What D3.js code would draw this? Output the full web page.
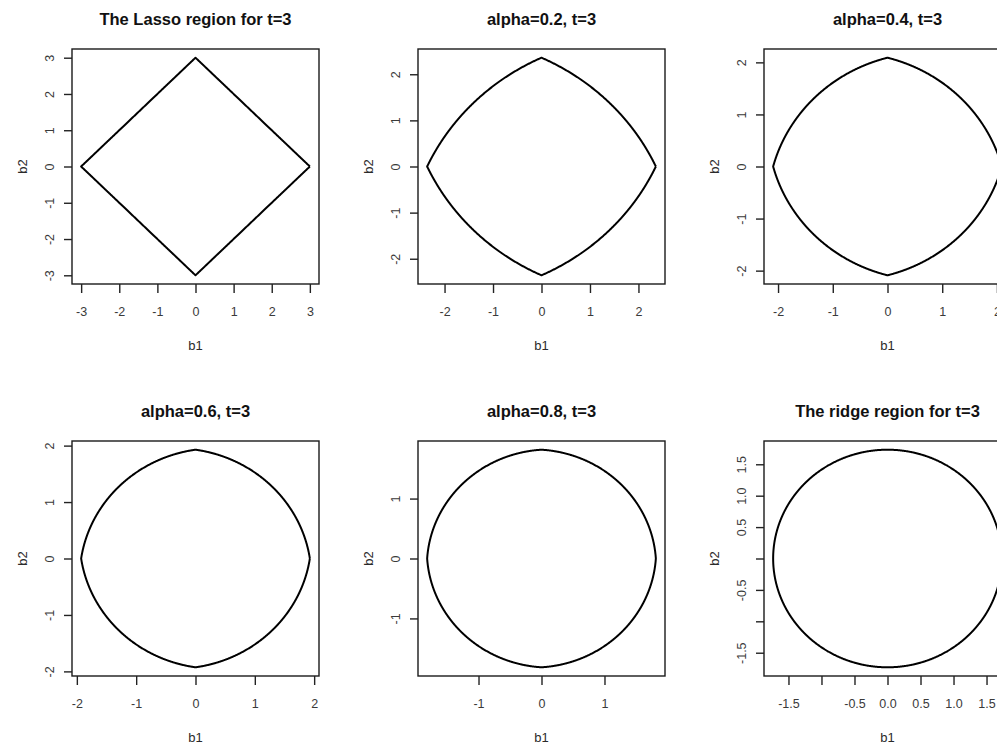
<!DOCTYPE html>
<html>
<head>
<meta charset="utf-8">
<script src="https://cdn.jsdelivr.net/npm/d3@7"></script>
<style>
  body { margin: 0; background: #fff; }
  svg { display: block; }
  text { font-family: "Liberation Sans", Arial, sans-serif; }
</style>
</head>
<body>
<svg id="chart" width="997" height="745"></svg>
<script>
// Elastic-net constraint regions: (1 - alpha)(|b1| + |b2|) + alpha (b1^2 + b2^2) <= t
const panelTitles = [
  "The Lasso region for t=3",
  "alpha=0.2, t=3",
  "alpha=0.4, t=3",
  "alpha=0.6, t=3",
  "alpha=0.8, t=3",
  "The ridge region for t=3"
];
const alphas = [0, 0.2, 0.4, 0.6, 0.8, 1];
const tBound = 3;

const xTickValues = [
  [-3, -2, -1, 0, 1, 2, 3],
  [-2, -1, 0, 1, 2],
  [-2, -1, 0, 1, 2],
  [-2, -1, 0, 1, 2],
  [-1, 0, 1],
  [-1.5, -1, -0.5, 0, 0.5, 1, 1.5]
];
const xTickLabels = [
  ["-3", "-2", "-1", "0", "1", "2", "3"],
  ["-2", "-1", "0", "1", "2"],
  ["-2", "-1", "0", "1", "2"],
  ["-2", "-1", "0", "1", "2"],
  ["-1", "0", "1"],
  ["-1.5", "", "-0.5", "0.0", "0.5", "1.0", "1.5"]
];
const yTickValues = xTickValues;
const yTickLabels = [
  ["-3", "-2", "-1", "0", "1", "2", "3"],
  ["-2", "-1", "0", "1", "2"],
  ["-2", "-1", "0", "1", "2"],
  ["-2", "-1", "0", "1", "2"],
  ["-1", "0", "1"],
  ["-1.5", "", "-0.5", "", "0.5", "1.0", "1.5"]
];
const axisTitleX = "b1";
const axisTitleY = "b2";

// grid layout: 3 columns x 2 rows
const cellW = 346, cellH = 392;
const margin = { left: 72, top: 49, right: 27, bottom: 108 };
const plotW = cellW - margin.left - margin.right;
const plotH = cellH - margin.top - margin.bottom;

const svg = d3.select("#chart");

// boundary of the region, traced by direction angle
function boundary(alpha, t) {
  const n = 1440;
  const pts = [];
  for (let i = 0; i <= n; i++) {
    const th = (i / n) * 2 * Math.PI;
    const c = Math.cos(th), s = Math.sin(th);
    const l1 = Math.abs(c) + Math.abs(s);
    let r;
    if (alpha === 0) r = t / l1;
    else {
      const b = (1 - alpha) * l1;
      r = (-b + Math.sqrt(b * b + 4 * alpha * t)) / (2 * alpha);
    }
    pts.push([r * c, r * s]);
  }
  return pts;
}

alphas.forEach((alpha, k) => {
  const col = k % 3, row = Math.floor(k / 3);
  const g = svg.append("g")
    .attr("transform", `translate(${col * cellW + margin.left},${row * cellH + margin.top})`);

  const pts = boundary(alpha, tBound);
  const ex = d3.extent(pts, d => d[0]);
  const ey = d3.extent(pts, d => d[1]);
  const px = (ex[1] - ex[0]) * 0.04, py = (ey[1] - ey[0]) * 0.04;

  const x = d3.scaleLinear().domain([ex[0] - px, ex[1] + px]).range([0, plotW]);
  const y = d3.scaleLinear().domain([ey[0] - py, ey[1] + py]).range([plotH, 0]);

  // region outline
  g.append("path")
    .datum(pts)
    .attr("d", d3.line().x(d => x(d[0])).y(d => y(d[1])))
    .attr("fill", "none")
    .attr("stroke", "#000")
    .attr("stroke-width", 2)
    .attr("stroke-linejoin", "round");

  // frame
  g.append("rect")
    .attr("x", 0).attr("y", 0)
    .attr("width", plotW).attr("height", plotH)
    .attr("fill", "none")
    .attr("stroke", "#1a1a1a")
    .attr("stroke-width", 1.4);

  // x axis
  const xa = g.append("g")
    .attr("transform", `translate(0,${plotH})`)
    .call(d3.axisBottom(x)
      .tickValues(xTickValues[k])
      .tickFormat((d, i) => xTickLabels[k][i])
      .tickSizeOuter(0)
      .tickSize(9));
  xa.select(".domain").remove();
  xa.selectAll(".tick line").attr("stroke", "#222").attr("stroke-width", 1.4);
  xa.selectAll(".tick text")
    .attr("y", 28).attr("dy", "0.35em")
    .attr("fill", "#3a3a3a")
    .style("font-size", "12.5px");

  // y axis with labels parallel to the axis
  const ya = g.append("g")
    .call(d3.axisLeft(y)
      .tickValues(yTickValues[k])
      .tickFormat((d, i) => yTickLabels[k][i])
      .tickSizeOuter(0)
      .tickSize(8));
  ya.select(".domain").remove();
  ya.selectAll(".tick line").attr("stroke", "#222").attr("stroke-width", 1.4);
  ya.selectAll(".tick text")
    .attr("x", 0).attr("y", 0).attr("dy", "0.35em")
    .attr("text-anchor", "middle")
    .attr("transform", "translate(-22,0) rotate(-90)")
    .attr("fill", "#3a3a3a")
    .style("font-size", "12.5px");

  // titles
  g.append("text")
    .attr("x", plotW / 2).attr("y", -30).attr("dy", "0.35em")
    .attr("text-anchor", "middle")
    .attr("fill", "#111")
    .style("font-size", "16.5px").style("font-weight", "bold")
    .text(panelTitles[k]);

  g.append("text")
    .attr("x", plotW / 2).attr("y", plotH + 61).attr("dy", "0.35em")
    .attr("text-anchor", "middle")
    .attr("fill", "#2a2a2a")
    .style("font-size", "13px")
    .text(axisTitleX);

  g.append("text")
    .attr("transform", `translate(-50,${plotH / 2}) rotate(-90)`)
    .attr("dy", "0.35em")
    .attr("text-anchor", "middle")
    .attr("fill", "#2a2a2a")
    .style("font-size", "13px")
    .text(axisTitleY);
});
</script>
</body>
</html>
